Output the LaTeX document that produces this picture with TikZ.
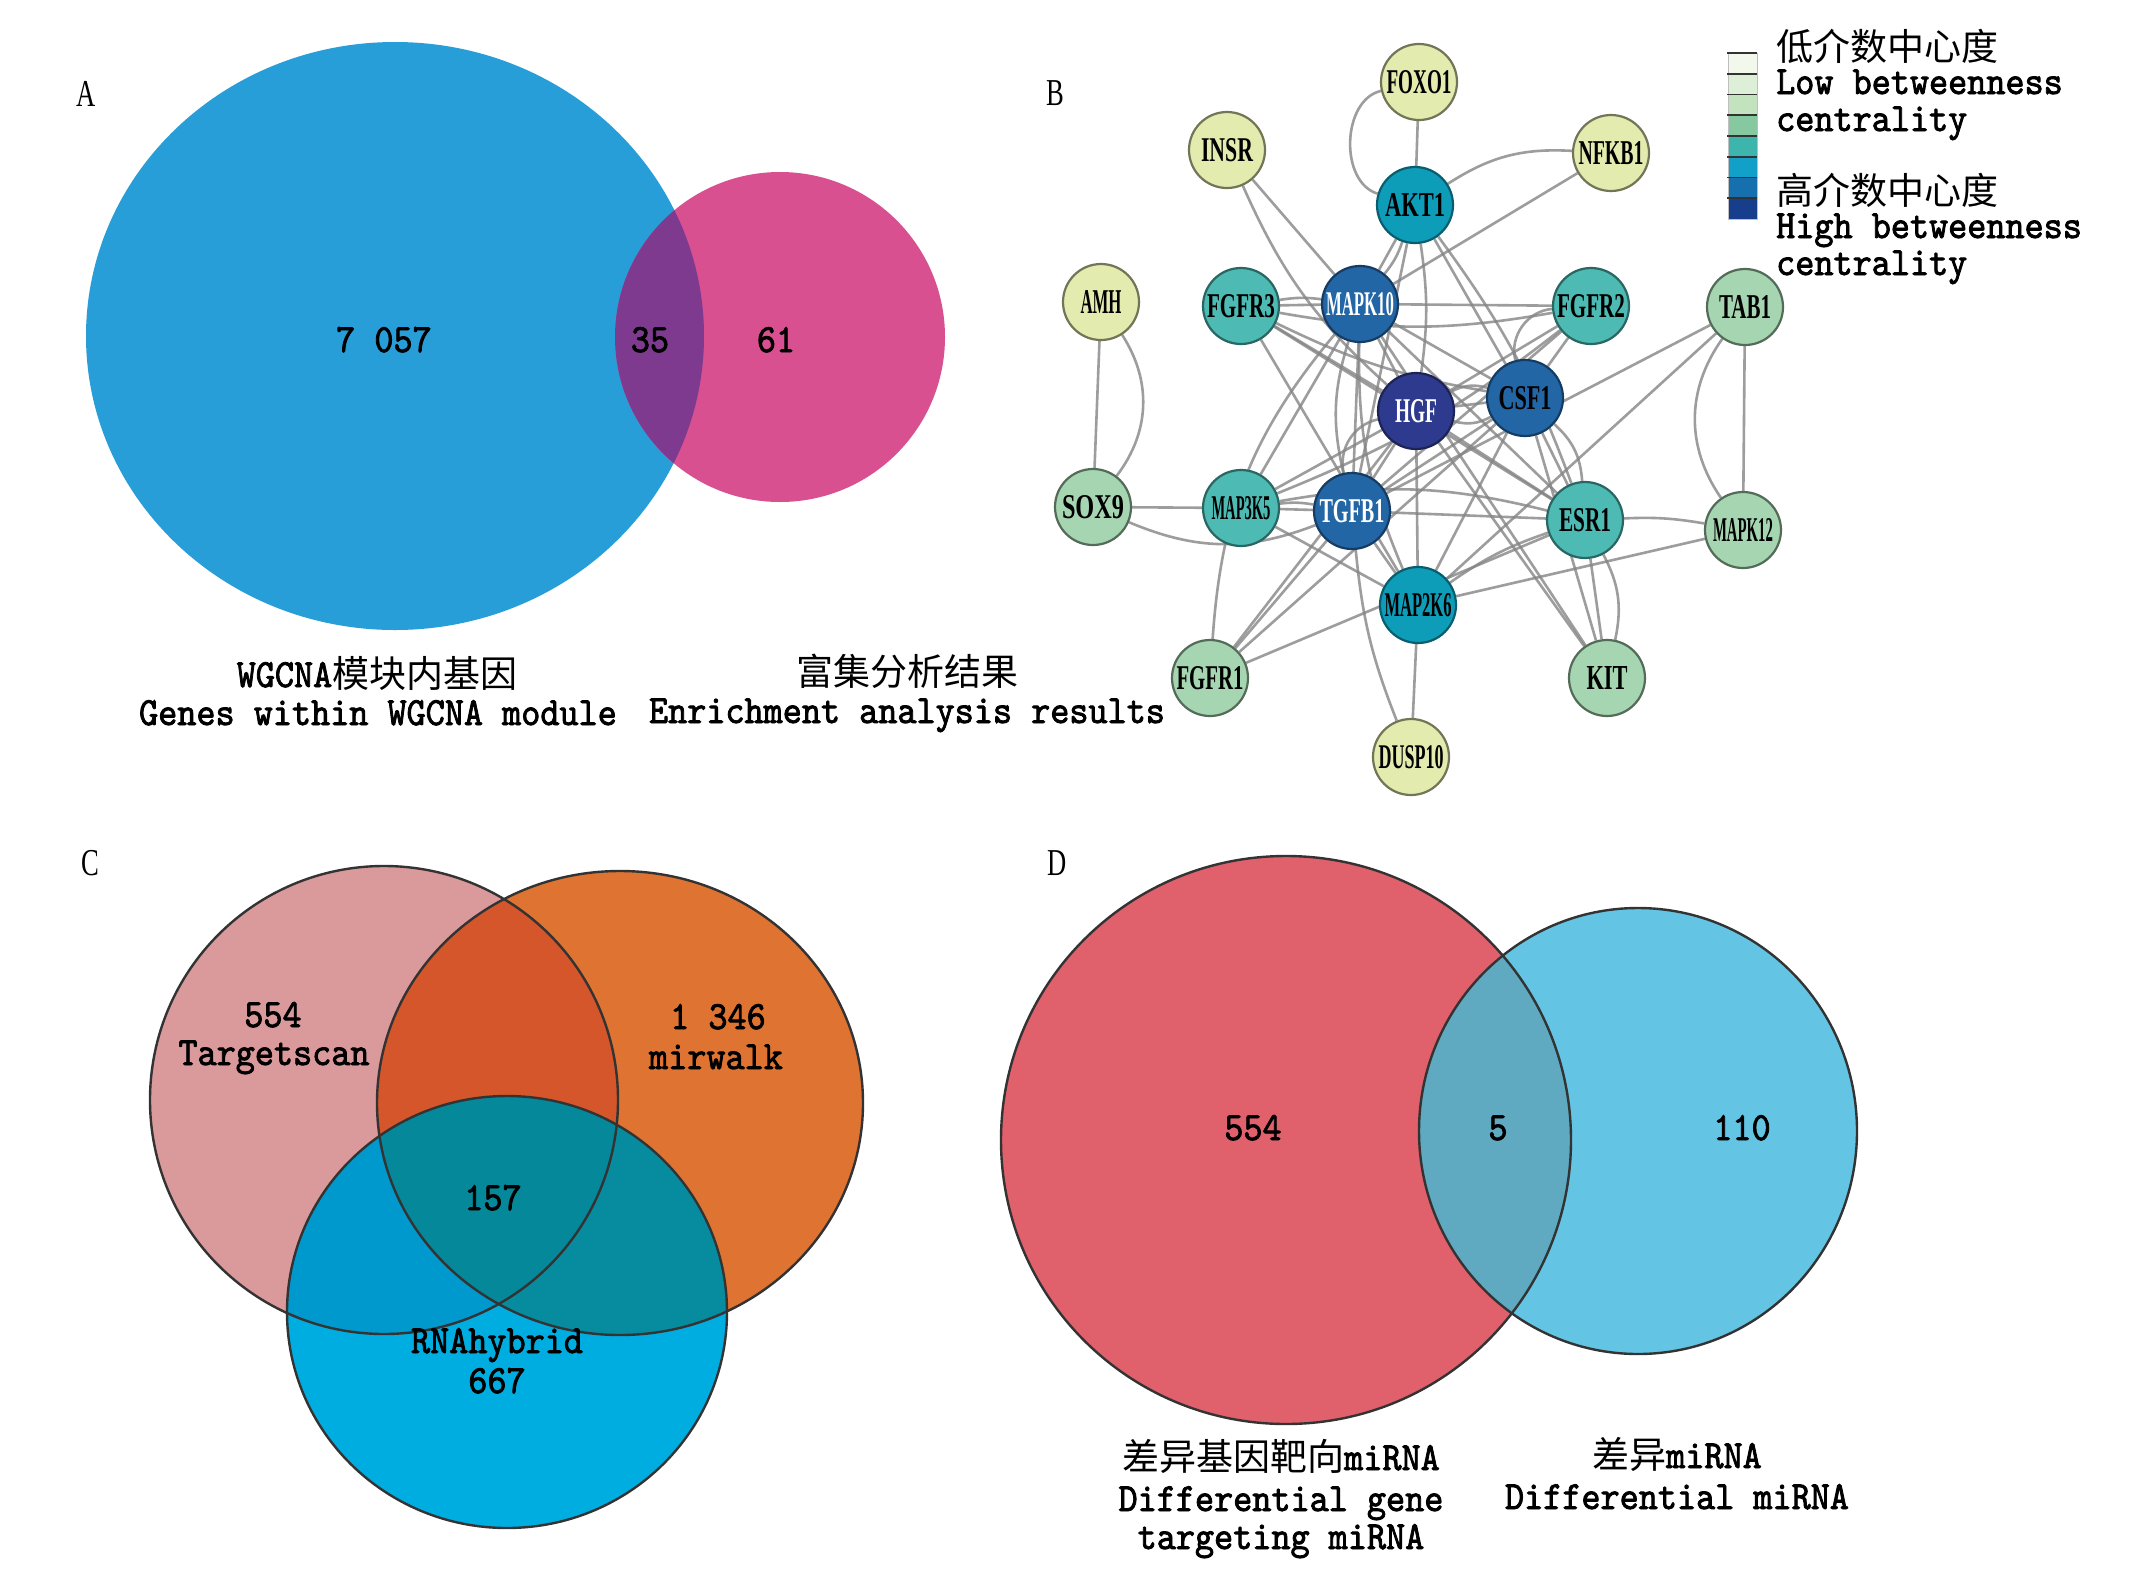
\documentclass[tikz,border=0pt]{standalone}
\usepackage{graphicx}
\usepackage{fontspec}
\setmainfont{lmmono10-regular.otf}[FakeStretch=0.91,FakeBold=2]
\newfontfamily\cjk{Noto Sans CJK SC}
\newfontfamily\lett{Liberation Serif}[FakeStretch=0.7]
\newfontfamily\nfont{Liberation Serif}
\usetikzlibrary{backgrounds}
\newcommand\fsz{\fontsize{40}{44}\selectfont}
\newcommand\csz{\cjk\fontsize{37}{40}\selectfont}
\newcommand\gn[5]{\node[#3] (#1) at (#2) {\resizebox{#4pt}{23pt}{\nfont\bfseries #5}};}
\definecolor{cAblue}{HTML}{289ED8}
\definecolor{cApink}{HTML}{D8508F}
\definecolor{cApurple}{HTML}{7D3A8F}
\definecolor{cCpink}{HTML}{DA9A9C}
\definecolor{cCorange}{HTML}{DF7331}
\definecolor{cCblue}{HTML}{00ADE0}
\definecolor{cCpo}{HTML}{D4562A}
\definecolor{cCpb}{HTML}{0099CD}
\definecolor{cCob}{HTML}{078C9F}
\definecolor{cCall}{HTML}{05889A}
\definecolor{cDred}{HTML}{E0606C}
\definecolor{cDblue}{HTML}{63C4E3}
\definecolor{cDov}{HTML}{5FA9C1}
\definecolor{cYel}{HTML}{E4EBAE}
\definecolor{cLgr}{HTML}{A6D6B1}
\definecolor{cTeal}{HTML}{4DBAB3}
\definecolor{cCyan}{HTML}{0E9DB8}
\definecolor{cBlu}{HTML}{2366A6}
\definecolor{cNavy}{HTML}{2E3A8D}
\definecolor{lg1}{HTML}{F3F8ED}
\definecolor{lg2}{HTML}{DDEFD6}
\definecolor{lg3}{HTML}{C2E3BD}
\definecolor{lg4}{HTML}{86C9A0}
\definecolor{lg5}{HTML}{3DB4AC}
\definecolor{lg6}{HTML}{12A0C8}
\definecolor{lg7}{HTML}{1670AE}
\definecolor{lg8}{HTML}{163E8C}
\tikzset{
  gbase/.style={circle, minimum size=76pt, inner sep=0pt, line width=2.2pt},
  gY/.style={gbase, fill=cYel, draw=cYel!50!black},
  gG/.style={gbase, fill=cLgr, draw=cLgr!50!black},
  gT/.style={gbase, fill=cTeal, draw=cTeal!55!black},
  gC/.style={gbase, fill=cCyan, draw=cCyan!60!black},
  gB/.style={gbase, fill=cBlu, draw=cBlu!60!black, text=white},
  gN/.style={gbase, fill=cNavy, draw=cNavy!60!black, text=white},
  edge/.style={draw=black!48, line width=2.6pt, opacity=0.8},
  vline/.style={draw=black!80, line width=2.4pt},
  txt/.style={font=\fsz, inner sep=0pt, anchor=base},
  ctxt/.style={font=\csz, inner sep=0pt, anchor=base},
  plet/.style={font=\lett\fontsize{38}{40}\selectfont, inner sep=0pt, anchor=base}
}
\begin{document}
\begin{tikzpicture}[x=1pt,y=-1pt]
\begin{scope}[on background layer]
\fill[white] (0,0) rectangle (2156,1575);
\end{scope}
\useasboundingbox (0,0) rectangle (2156,1575);

% ---------------- Panel A ----------------
\node[plet] (labA) at (86,106) {A};
\fill[cAblue] (395,336) ellipse [x radius=309pt, y radius=294pt];
\fill[cApink] (780,337) ellipse [x radius=165pt, y radius=165pt];
\begin{scope}
\clip (395,336) ellipse [x radius=309pt, y radius=294pt];
\fill[cApurple] (780,337) ellipse [x radius=165pt, y radius=165pt];
\end{scope}
\node[txt] (a1) at (384,352) {7 057};
\node[txt] (a2) at (650,352) {35};
\node[txt] (a3) at (776,352) {61};
\node[txt] (a4) at (377,687) {WGCNA{\csz 模块内基因}};
\node[txt] (a5) at (378,725) {Genes within WGCNA module};
\node[ctxt] (a6) at (907,685) {富集分析结果};
\node[txt] (a7) at (907,723) {Enrichment analysis results};

% ---------------- Panel B ----------------
\node[plet] (labB) at (1055,105) {B};
\gn{FOXO1}{1419,82}{gY}{65}{FOXO1}
\gn{INSR}{1227,150}{gY}{52}{INSR}
\gn{NFKB1}{1611,153}{gY}{65}{NFKB1}
\gn{AKT1}{1415,205}{gC}{60}{AKT1}
\gn{AMH}{1101,302}{gY}{41}{AMH}
\gn{FGFR3}{1241,306}{gT}{68}{FGFR3}
\gn{MAPK10}{1360,304}{gB}{68}{MAPK10}
\gn{FGFR2}{1591,306}{gT}{68}{FGFR2}
\gn{TAB1}{1745,307}{gG}{52}{TAB1}
\gn{HGF}{1416,411}{gN}{42}{HGF}
\gn{CSF1}{1525,398}{gB,text=black}{53}{CSF1}
\gn{SOX9}{1093,507}{gG}{62}{SOX9}
\gn{MAP3K5}{1241,508}{gT}{59}{MAP3K5}
\gn{TGFB1}{1352,511}{gB}{65}{TGFB1}
\gn{ESR1}{1585,520}{gT}{52}{ESR1}
\gn{MAPK12}{1743,530}{gG}{60}{MAPK12}
\gn{MAP2K6}{1418,605}{gC}{67}{MAP2K6}
\gn{FGFR1}{1210,678}{gG}{67}{FGFR1}
\gn{KIT}{1607,678}{gG}{41}{KIT}
\gn{DUSP10}{1411,757}{gY}{65}{DUSP10}

\begin{scope}[on background layer]
\draw[edge] (FOXO1) -- (AKT1);
\draw[edge] (FOXO1) to[bend right=75] (AKT1);
\draw[edge] (INSR) -- (MAPK10);
\draw[edge] (INSR) to[bend right=12] (HGF);
\draw[edge] (AKT1) to[bend left=18] (NFKB1);
\draw[edge] (NFKB1) -- (MAPK10);
\draw[edge] (AKT1) -- (MAPK10);
\draw[edge] (AKT1) to[bend left=10] (MAPK10);
\draw[edge] (AKT1) to[bend left=8] (HGF);
\draw[edge] (AKT1) -- (TGFB1);
\draw[edge] (AKT1) -- (CSF1);
\draw[edge] (AKT1) to[bend left=8] (ESR1);
\draw[edge] (AMH) -- (SOX9);
\draw[edge] (AMH) to[bend left=35] (SOX9);
\draw[edge] (FGFR3) -- (MAPK10);
\draw[edge] (FGFR3) to[bend left=8] (MAPK10);
\draw[edge] (MAPK10) -- (FGFR2);
\draw[edge] (FGFR3) to[bend right=10] (FGFR2);
\draw[edge] (FGFR3) -- (HGF);
\draw[edge] (FGFR3) to[bend right=8] (CSF1);
\draw[edge] (FGFR3) -- (ESR1);
\draw[edge] (FGFR3) -- (MAP2K6);
\draw[edge] (MAPK10) -- (HGF);
\draw[edge] (MAPK10) -- (CSF1);
\draw[edge] (MAPK10) -- (TGFB1);
\draw[edge] (MAPK10) to[bend right=15] (TGFB1);
\draw[edge] (MAPK10) -- (ESR1);
\draw[edge] (MAPK10) -- (MAP3K5);
\draw[edge] (MAPK10) to[bend right=12] (MAP2K6);
\draw[edge] (MAPK10) to[bend right=18] (FGFR1);
\draw[edge] (MAPK10) -- (KIT);
\draw[edge] (FGFR2) to[bend right=50] (CSF1);
\draw[edge] (FGFR2) -- (CSF1);
\draw[edge] (FGFR2) -- (HGF);
\draw[edge] (FGFR2) -- (TGFB1);
\draw[edge] (FGFR2) to[bend left=8] (MAP3K5);
\draw[edge] (TAB1) -- (MAPK12);
\draw[edge] (TAB1) to[bend right=35] (MAPK12);
\draw[edge] (TAB1) -- (TGFB1);
\draw[edge] (TAB1) -- (MAP2K6);
\draw[edge] (HGF) -- (CSF1);
\draw[edge] (HGF) to[bend left=22] (CSF1);
\draw[edge] (HGF) to[bend right=22] (CSF1);
\draw[edge] (HGF) -- (TGFB1);
\draw[edge] (HGF) to[bend right=45] (TGFB1);
\draw[edge] (HGF) -- (MAP3K5);
\draw[edge] (HGF) -- (ESR1);
\draw[edge] (HGF) -- (MAP2K6);
\draw[edge] (HGF) -- (KIT);
\draw[edge] (HGF) -- (FGFR1);
\draw[edge] (CSF1) -- (TGFB1);
\draw[edge] (CSF1) -- (MAP2K6);
\draw[edge] (CSF1) -- (ESR1);
\draw[edge] (CSF1) to[bend left=22] (ESR1);
\draw[edge] (CSF1) -- (KIT);
\draw[edge] (CSF1) -- (FGFR1);
\draw[edge] (SOX9) -- (MAP3K5);
\draw[edge] (SOX9) to[bend right=22] (TGFB1);
\draw[edge] (MAP3K5) -- (TGFB1);
\draw[edge] (MAP3K5) to[bend left=8] (TGFB1);
\draw[edge] (MAP3K5) -- (MAP2K6);
\draw[edge] (MAP3K5) to[bend left=12] (ESR1);
\draw[edge] (TGFB1) -- (ESR1);
\draw[edge] (TGFB1) -- (MAP2K6);
\draw[edge] (TGFB1) -- (FGFR1);
\draw[edge] (TGFB1) to[bend right=8] (DUSP10);
\draw[edge] (ESR1) to[bend left=6] (MAPK12);
\draw[edge] (ESR1) to[bend right=8] (MAP2K6);
\draw[edge] (ESR1) -- (KIT);
\draw[edge] (ESR1) to[bend left=20] (KIT);
\draw[edge] (ESR1) -- (FGFR1);
\draw[edge] (MAPK12) -- (MAP2K6);
\draw[edge] (MAP2K6) -- (DUSP10);
\end{scope}

% legend
\foreach \c [count=\i from 0] in {lg1,lg2,lg3,lg4,lg5,lg6,lg7,lg8}{
  \fill[\c] (1728,53+20.75*\i) rectangle (1757,53+20.75*\i+20.75);
}
\draw[black!25, line width=1pt] (1728,53) rectangle (1757,219);
\foreach \i in {0,...,7}{
  \draw[black!80, line width=1.6pt] (1727,53+20.75*\i) -- (1757,53+20.75*\i);
}
\node[ctxt, anchor=base west] (l1) at (1776,60) {低介数中心度};
\node[txt, anchor=base west] (l2) at (1776,94) {Low betweenness};
\node[txt, anchor=base west] (l3) at (1776,131) {centrality};
\node[ctxt, anchor=base west] (l4) at (1776,204) {高介数中心度};
\node[txt, anchor=base west] (l5) at (1776,238) {High betweenness};
\node[txt, anchor=base west] (l6) at (1776,275) {centrality};

% ---------------- Panel C ----------------
\node[plet] (labC) at (90,875) {C};
\fill[cCpink] (384,1100) ellipse [x radius=234pt, y radius=234pt];
\fill[cCorange] (620,1103) ellipse [x radius=243pt, y radius=232pt];
\fill[cCblue] (507,1312) ellipse [x radius=220pt, y radius=216pt];
\begin{scope}
\clip (384,1100) ellipse [x radius=234pt, y radius=234pt];
\fill[cCpo] (620,1103) ellipse [x radius=243pt, y radius=232pt];
\fill[cCpb] (507,1312) ellipse [x radius=220pt, y radius=216pt];
\end{scope}
\begin{scope}
\clip (620,1103) ellipse [x radius=243pt, y radius=232pt];
\fill[cCob] (507,1312) ellipse [x radius=220pt, y radius=216pt];
\clip (384,1100) ellipse [x radius=234pt, y radius=234pt];
\fill[cCall] (507,1312) ellipse [x radius=220pt, y radius=216pt];
\end{scope}
\draw[vline] (384,1100) ellipse [x radius=234pt, y radius=234pt];
\draw[vline] (620,1103) ellipse [x radius=243pt, y radius=232pt];
\draw[vline] (507,1312) ellipse [x radius=220pt, y radius=216pt];
\node[txt] (c1) at (273,1027) {554};
\node[txt] (c2) at (274,1065) {Targetscan};
\node[txt] (c3) at (718,1029) {1 346};
\node[txt] (c4) at (716,1069) {mirwalk};
\node[txt] (c5) at (493,1210) {157};
\node[txt] (c6) at (497,1353) {RNAhybrid};
\node[txt] (c7) at (497,1393) {667};

% ---------------- Panel D ----------------
\node[plet] (labD) at (1057,875) {D};
\fill[cDred] (1286,1140) ellipse [x radius=285pt, y radius=284pt];
\fill[cDblue] (1638,1131) ellipse [x radius=219pt, y radius=223pt];
\begin{scope}
\clip (1286,1140) ellipse [x radius=285pt, y radius=284pt];
\fill[cDov] (1638,1131) ellipse [x radius=219pt, y radius=223pt];
\end{scope}
\draw[vline] (1286,1140) ellipse [x radius=285pt, y radius=284pt];
\draw[vline] (1638,1131) ellipse [x radius=219pt, y radius=223pt];
\node[txt] (d1) at (1253,1140) {554};
\node[txt] (d2) at (1498,1140) {5};
\node[txt] (d3) at (1742,1140) {110};
\node[txt] (d4) at (1281,1470) {{\csz 差异基因靶向}miRNA};
\node[txt] (d5) at (1281,1511) {Differential gene};
\node[txt] (d6) at (1281,1549) {targeting miRNA};
\node[txt] (d7) at (1677,1468) {{\csz 差异}miRNA};
\node[txt] (d8) at (1677,1509) {Differential miRNA};
\end{tikzpicture}
\end{document}
